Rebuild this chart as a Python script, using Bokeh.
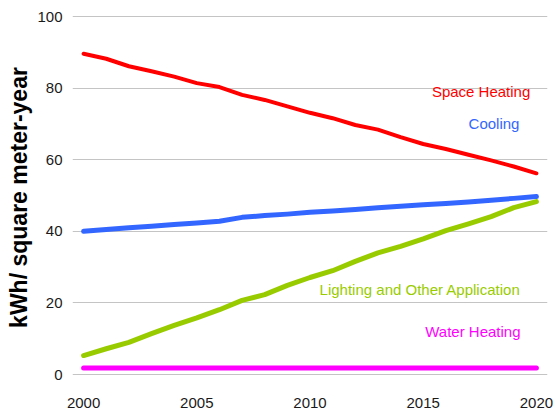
from bokeh.plotting import figure
from bokeh.models import Range1d, Label, FixedTicker
from bokeh.embed import file_html
from bokeh.resources import INLINE

years = list(range(2000, 2021))
space_heating = [89.6, 88.2, 86.1, 84.7, 83.2, 81.4, 80.3, 78.1, 76.7, 74.9, 73.1,
                 71.6, 69.7, 68.4, 66.3, 64.4, 63.0, 61.4, 59.8, 58.1, 56.2]
cooling = [40.0, 40.5, 41.0, 41.4, 41.9, 42.3, 42.8, 43.9, 44.4, 44.8, 45.3,
           45.7, 46.1, 46.6, 47.0, 47.4, 47.8, 48.2, 48.7, 49.2, 49.7]
lighting = [5.3, 7.2, 9.0, 11.4, 13.7, 15.8, 18.1, 20.7, 22.3, 24.9, 27.1,
            29.0, 31.6, 34.0, 35.8, 37.9, 40.2, 42.1, 44.1, 46.6, 48.3]
water_heating = [1.8] * 21

series_names = ["Space Heating", "Cooling", "Lighting and Other Application", "Water Heating"]
x_ticks = [2000, 2005, 2010, 2015, 2020]
y_ticks = [0, 20, 40, 60, 80, 100]

colors = ["#ff0000", "#3366ff", "#99cc00", "#ff00ff"]
widths = [4, 5, 5, 5]

p = figure(width=555, height=416, output_backend="svg", toolbar_location=None,
           x_range=Range1d(1999.51, 2020.49), y_range=Range1d(-2.23, 101.12),
           min_border_left=72, min_border_right=8, min_border_top=12, min_border_bottom=34)
p.outline_line_color = None
p.background_fill_color = "white"

for vals, c, w in zip([space_heating, cooling, lighting, water_heating], colors, widths):
    p.line(years, vals, line_color=c, line_width=w, line_cap="round", line_join="round")

p.xgrid.grid_line_color = None
p.ygrid.grid_line_color = "#c4c4c4"
p.ygrid.grid_line_width = 1

p.xaxis.ticker = FixedTicker(ticks=x_ticks)
p.yaxis.ticker = FixedTicker(ticks=y_ticks)
for ax in (p.xaxis, p.yaxis):
    ax.axis_line_color = None
    ax.major_tick_line_color = None
    ax.minor_tick_line_color = None
    ax.major_tick_out = 0
    ax.major_tick_in = 0
    ax.major_label_text_font = "Liberation Sans"
    ax.major_label_text_font_size = "15px"
    ax.major_label_text_color = "#1a1a1a"
p.xaxis.major_label_standoff = 15
p.yaxis.major_label_standoff = 10

p.yaxis.axis_label = "kWh/ square meter-year"
p.yaxis.axis_label_text_font = "Liberation Sans"
p.yaxis.axis_label_text_font_style = "bold"
p.yaxis.axis_label_text_font_size = "23px"
p.yaxis.axis_label_text_color = "#000000"
p.yaxis.axis_label_standoff = 2

label_pos = [(2019.73, 79.1), (2019.25, 70.1), (2019.3, 23.7), (2019.3, 12.0)]
for name, c, (lx, ly) in zip(series_names, colors, label_pos):
    p.add_layout(Label(x=lx, y=ly, text=name, text_color=c, text_align="right",
                       text_baseline="middle", text_font="Liberation Sans",
                       text_font_size="15px"))

open("out.html", "w").write(file_html(p, INLINE))
